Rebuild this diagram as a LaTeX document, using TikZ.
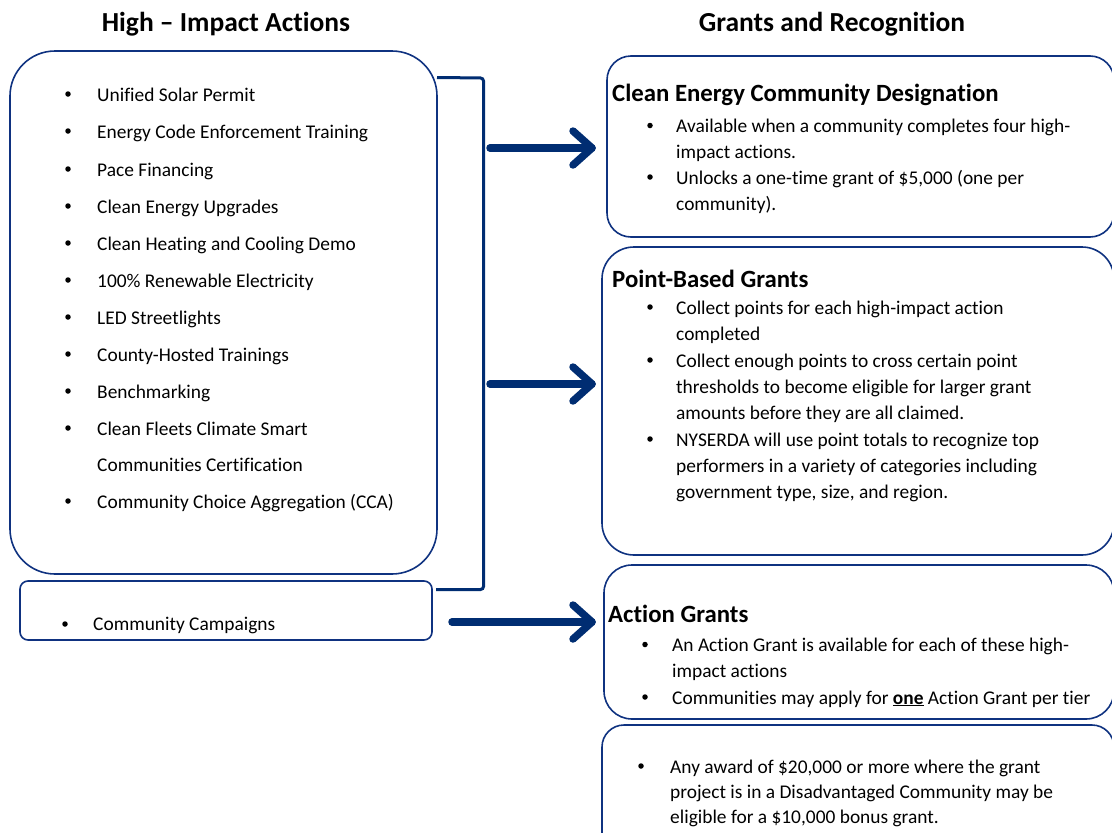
\documentclass[tikz,border=0pt]{standalone}
\usepackage{fontspec}
\setmainfont[Ligatures={NoCommon}]{Carlito}
\usetikzlibrary{calc}
\definecolor{boxblue}{RGB}{15,50,128}
\definecolor{arrblue}{RGB}{0,45,114}
\newcommand{\mlines}[1]{\begin{tabular}[t]{@{}l@{}}#1\end{tabular}}
\tikzset{
  box/.style={draw=boxblue, line width=1.6pt},
  bar/.style={draw=arrblue, line width=3pt, rounded corners=3pt},
  arr/.style={draw=arrblue, line width=7.5pt, line cap=round, line join=round},
  title/.style={anchor=base, font=\fontsize{27.5}{32}\selectfont\bfseries, inner sep=0pt},
  head/.style={anchor=base west, font=\fontsize{24.8}{28}\selectfont\bfseries, inner sep=0pt},
  ltxt/.style={anchor=base west, font=\fontsize{19.4}{36.5}\selectfont, inner sep=0pt},
  rtxt/.style={anchor=base west, font=\fontsize{19.4}{26.3}\selectfont, inner sep=0pt},
  bul/.style={circle, fill=black, inner sep=0pt, minimum size=5.5pt},
}
\begin{document}
\begin{tikzpicture}[x=1pt,y=-1pt]
\useasboundingbox (0,0) rectangle (1112,833);
% titles
\node[title] (t1) at (226,31) {High – Impact Actions};
\node[title] (t2) at (832,31) {Grants and Recognition};
% left boxes
\draw[box, rounded corners=45pt] (10,51) rectangle (437,574);
\draw[box, rounded corners=8pt] (20,581) rectangle (432,640);
% bracket
\draw[bar] (437,77.5) -- (483.5,78) -- (483.5,589.5) -- (436,589.5);
% right boxes
\draw[box, rounded corners=24pt] (607,56) rectangle (1114,237);
\draw[box, rounded corners=32pt] (602,247) rectangle (1114,555);
\draw[box, rounded corners=28pt] (604,565) rectangle (1114,719);
\draw[box, rounded corners=22pt] (602,725) rectangle (1114,860);
% arrows
\coordinate (a1s) at (490,148); \coordinate (a1t) at (592,148);
\coordinate (a2s) at (490,384); \coordinate (a2t) at (592,384);
\coordinate (a3s) at (452,622); \coordinate (a3t) at (592,622);
\foreach \s/\t in {a1s/a1t,a2s/a2t,a3s/a3t}{
  \draw[arr] (\s) -- (\t);
  \draw[arr] ($(\t)+(-19,-17)$) -- (\t) -- ($(\t)+(-19,17)$);
}
% left list
\foreach \y/\txt [count=\i] in {
  101/Unified Solar Permit,
  138/Energy Code Enforcement Training,
  176/Pace Financing,
  213/Clean Energy Upgrades,
  250/Clean Heating and Cooling Demo,
  287/100\% Renewable Electricity,
  324/LED Streetlights,
  361/County-Hosted Trainings,
  398/Benchmarking,
  435/\mlines{Clean Fleets Climate Smart\\Communities Certification},
  508/Community Choice Aggregation (CCA)}{
  \node[bul] (lb\i) at (68,\y-7) {};
  \node[ltxt] (lt\i) at (97,\y) {\txt};
}
\node[bul] (cb) at (65,624) {};
\node[ltxt] (ct) at (93,630.5) {Community Campaigns};
% box 1
\node[head] (h1) at (612,101.5) {Clean Energy Community Designation};
\node[bul] (b11) at (650,125.5) {};
\node[rtxt] (r11) at (676,132.5) {\mlines{Available when a community completes four high-\\impact actions.}};
\node[bul] (b12) at (650,177) {};
\node[rtxt] (r12) at (676,184) {\mlines{Unlocks a one-time grant of \$5,000 (one per\\community).}};
% box 2
\node[head] (h2) at (612,287.5) {Point-Based Grants};
\node[bul] (b21) at (650,307) {};
\node[rtxt] (r21) at (676,314) {\mlines{Collect points for each high-impact action\\completed}};
\node[bul] (b22) at (650,360) {};
\node[rtxt] (r22) at (676,367) {\mlines{Collect enough points to cross certain point\\thresholds to become eligible for larger grant\\amounts before they are all claimed.}};
\node[bul] (b23) at (650,439) {};
\node[rtxt] (r23) at (676,446) {\mlines{NYSERDA will use point totals to recognize top\\performers in a variety of categories including\\government type, size, and region.}};
% box 3
\node[head] (h3) at (608,622.5) {Action Grants};
\node[bul] (b31) at (645,644.5) {};
\node[rtxt] (r31) at (672,651.5) {\mlines{An Action Grant is available for each of these high-\\impact actions}};
\node[bul] (b32) at (645,697) {};
\node[rtxt] (r32) at (672,704) {Communities may apply for \underline{\textbf{one}} Action Grant per tier};
% box 4
\node[bul] (b41) at (641,766) {};
\node[rtxt, font=\fontsize{19.4}{25}\selectfont] (r41) at (670,773) {\mlines{Any award of \$20,000 or more where the grant\\project is in a Disadvantaged Community may be\\eligible for a \$10,000 bonus grant.}};
\end{tikzpicture}
\end{document}
